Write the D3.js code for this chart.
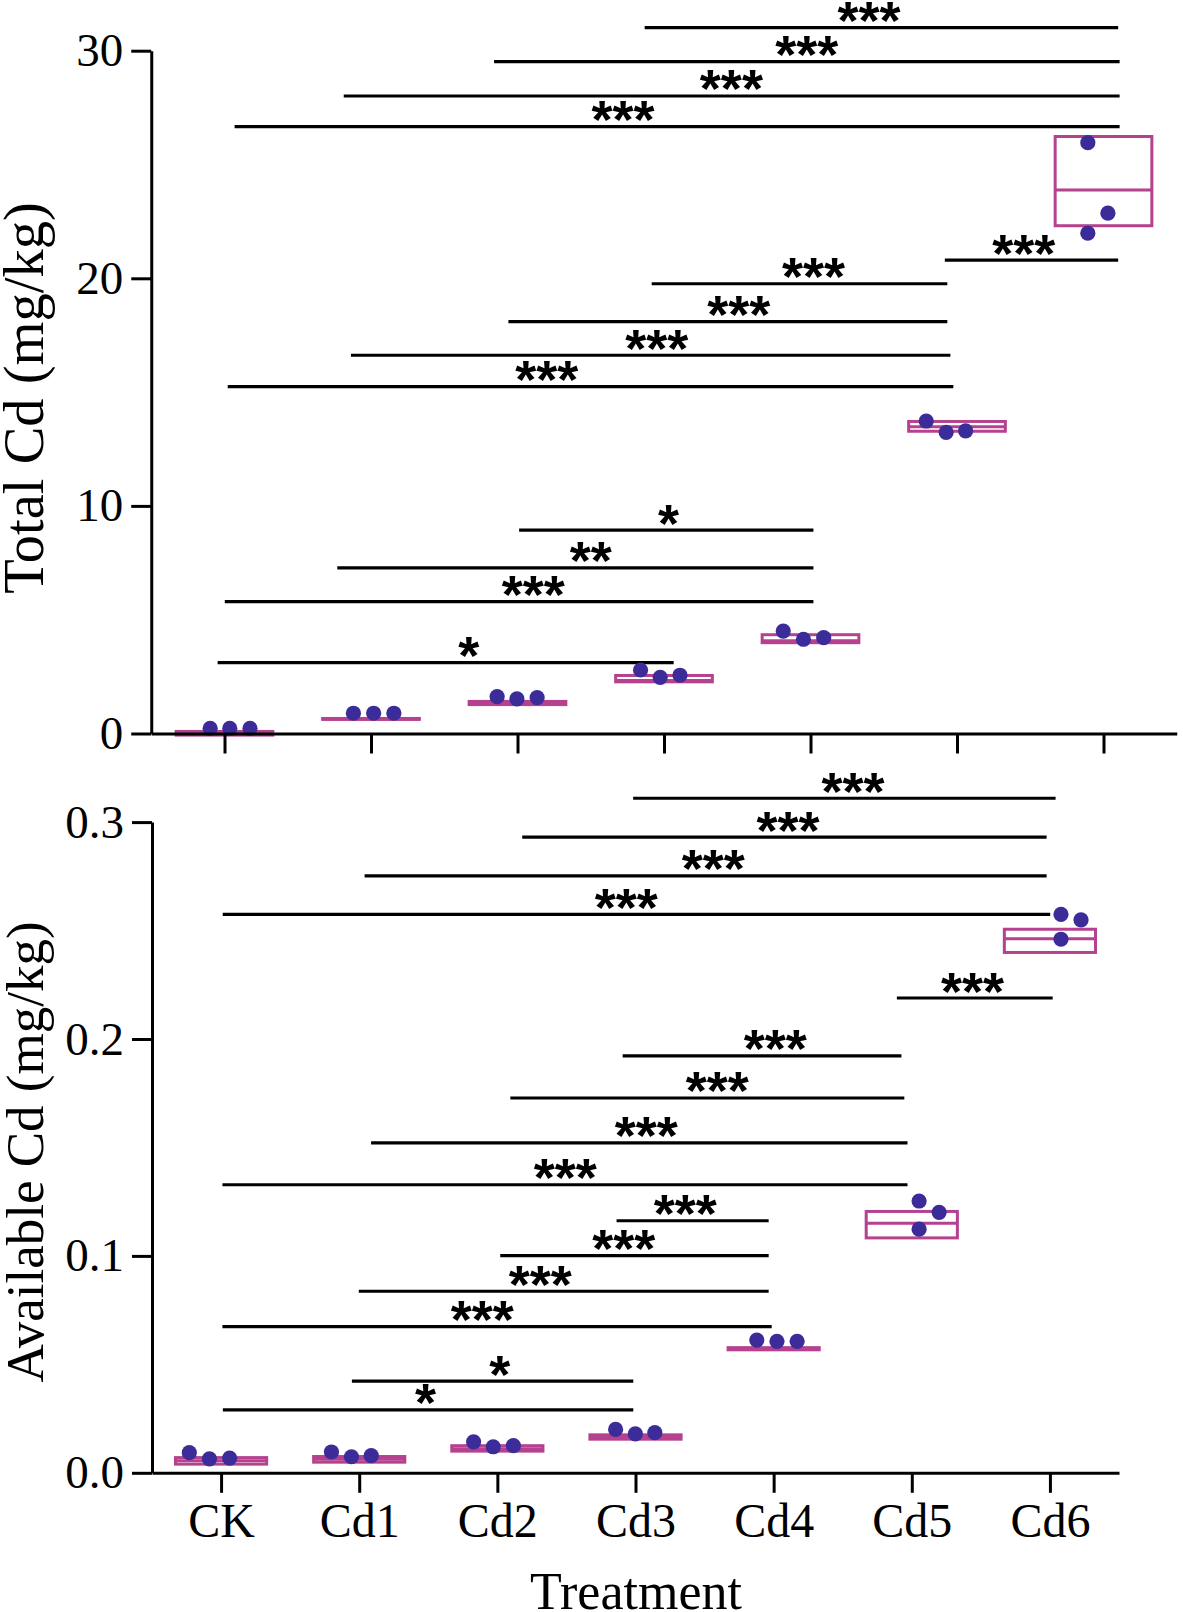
<!DOCTYPE html>
<html>
<head>
<meta charset="utf-8">
<script src="https://cdn.jsdelivr.net/npm/d3@7/dist/d3.min.js"></script>
<style>
  html, body { margin: 0; padding: 0; background: #fff; }
  svg { display: block; }
</style>
</head>
<body>
<svg id="chart" width="1183" height="1612"></svg>
<script>
// ---------------- DATA ----------------
const categories = ["CK", "Cd1", "Cd2", "Cd3", "Cd4", "Cd5", "Cd6"];

// Top panel: Total Cd (mg/kg)
const totalTicks = [0, 10, 20, 30];
const totalPoints = [
  [0.23, 0.23, 0.23],
  [0.89, 0.89, 0.89],
  [1.62, 1.52, 1.58],
  [2.79, 2.47, 2.56],
  [4.50, 4.14, 4.21],
  [13.73, 13.23, 13.30],
  [25.96, 22.86, 21.98]
];
// horizontal jitter of each point, in fractions of a category step
const totalJitter = [
  [-0.098, 0.036, 0.174],
  [-0.120, 0.018, 0.156],
  [-0.139, -0.004, 0.134],
  [-0.160, -0.026, 0.109],
  [-0.186, -0.048, 0.090],
  [-0.210, -0.074, 0.059],
  [-0.107, 0.030, -0.107]
];
const totalBoxLow  = [-0.07, 0.62, 1.27, 2.27, 3.99, 13.28, 22.31];
const totalBoxMid  = [0.01, 0.64, 1.34, 2.33, 4.08, 13.48, 23.88];
const totalBoxHigh = [0.09, 0.66, 1.41, 2.55, 4.34, 13.71, 26.23];
// significance bars: [from index, to index, y value, label, label position index]
const totalSig = [
  [2.868, 6.10, 31.01, "***", 4.40],
  [1.84, 6.11, 29.52, "***", 3.975],
  [0.814, 6.11, 28.01, "***", 3.46],
  [0.069, 6.11, 26.66, "***", 2.72],
  [4.917, 6.10, 20.80, "***", 5.456],
  [2.916, 4.934, 19.76, "***", 4.02],
  [1.938, 4.934, 18.10, "***", 3.51],
  [0.863, 4.955, 16.62, "***", 2.95],
  [0.022, 4.975, 15.24, "***", 2.20],
  [2.011, 4.02, 8.94, "*", 3.03],
  [0.77, 4.02, 7.28, "**", 2.50],
  [0.002, 4.02, 5.79, "***", 2.107],
  [-0.047, 3.066, 3.11, "*", 1.668]
];

// Bottom panel: Available Cd (mg/kg)
const availTicks = [0.0, 0.1, 0.2, 0.3];
const availPoints = [
  [0.0093, 0.0064, 0.0068],
  [0.0096, 0.0074, 0.0079],
  [0.0143, 0.0120, 0.0125],
  [0.0200, 0.0179, 0.0185],
  [0.0612, 0.0606, 0.0606],
  [0.1253, 0.1201, 0.1123],
  [0.2575, 0.2549, 0.2460]
];
const availJitter = [
  [-0.230, -0.084, 0.062],
  [-0.201, -0.056, 0.087],
  [-0.172, -0.030, 0.116],
  [-0.144, -0.001, 0.140],
  [-0.122, 0.024, 0.170],
  [0.053, 0.198, 0.053],
  [0.080, 0.225, 0.080]
];
const availBoxLow  = [0.0040, 0.0049, 0.0100, 0.0155, 0.0567, 0.1083, 0.2399];
const availBoxMid  = [0.0056, 0.0062, 0.0111, 0.0165, 0.0572, 0.1150, 0.2462];
const availBoxHigh = [0.0070, 0.0075, 0.0125, 0.0175, 0.0577, 0.1205, 0.2506];
const availSig = [
  [2.983, 6.041, 0.3110, "***", 4.574],
  [2.18, 5.976, 0.2931, "***", 4.104],
  [1.039, 5.976, 0.2752, "***", 3.563],
  [0.012, 6.002, 0.2575, "***", 2.933],
  [4.892, 6.02, 0.2189, "***", 5.439],
  [2.907, 4.925, 0.1922, "***", 4.012],
  [2.094, 4.946, 0.1728, "***", 3.592],
  [1.086, 4.969, 0.1521, "***", 3.078],
  [0.010, 4.969, 0.1328, "***", 2.491],
  [2.863, 3.964, 0.1162, "***", 3.36],
  [2.021, 3.964, 0.1001, "***", 2.915],
  [0.997, 3.964, 0.0837, "***", 2.31],
  [0.010, 3.986, 0.0674, "***", 1.89],
  [0.947, 2.984, 0.0423, "*", 2.017],
  [0.013, 2.984, 0.0290, "*", 1.48]
];

// ---------------- DRAWING ----------------
const svg = d3.select("#chart");
const BOX_COLOR = "#B5418F";
const DOT_COLOR = "#3B2C99";
const SERIF = "'Liberation Serif', 'Times New Roman', serif";
const SANS = "'Liberation Sans', Arial, sans-serif";

function drawPanel(cfg) {
  const g = svg.append("g");
  const x = d3.scalePoint().domain(categories).range(cfg.xRange).padding(0.5);
  const step = x.step();
  const xi = d3.scaleLinear().domain([0, categories.length - 1])
    .range([x(categories[0]), x(categories[categories.length - 1])]);
  const y = d3.scaleLinear().domain(cfg.yDomain).range(cfg.yRange);

  // significance bars
  const sig = g.append("g");
  cfg.sig.forEach(s => {
    sig.append("line")
      .attr("x1", xi(s[0])).attr("x2", xi(s[1]))
      .attr("y1", y(s[2])).attr("y2", y(s[2]))
      .attr("stroke", "#000").attr("stroke-width", 3.2);
    sig.append("text")
      .attr("x", xi(s[4])).attr("y", y(s[2]) + 11.5)
      .attr("text-anchor", "middle")
      .attr("font-family", SANS).attr("font-weight", "bold")
      .attr("font-size", 54)
      .text(s[3]);
  });

  // boxes
  const bw = step * 0.66;
  categories.forEach((c, i) => {
    g.append("rect")
      .attr("x", x(c) - bw / 2).attr("width", bw)
      .attr("y", y(cfg.high[i])).attr("height", y(cfg.low[i]) - y(cfg.high[i]))
      .attr("fill", "#fff").attr("stroke", BOX_COLOR).attr("stroke-width", 3);
    g.append("line")
      .attr("x1", x(c) - bw / 2).attr("x2", x(c) + bw / 2)
      .attr("y1", y(cfg.mid[i])).attr("y2", y(cfg.mid[i]))
      .attr("stroke", BOX_COLOR).attr("stroke-width", 3);
  });

  // points
  categories.forEach((c, i) => {
    cfg.points[i].forEach((v, j) => {
      g.append("circle")
        .attr("cx", x(c) + cfg.jitter[i][j] * step)
        .attr("cy", y(v)).attr("r", 7.6)
        .attr("fill", DOT_COLOR);
    });
  });

  // axes
  const yAxis = d3.axisLeft(y).tickValues(cfg.ticks).tickSize(20).tickSizeOuter(0)
    .tickPadding(8).tickFormat(cfg.fmt);
  const ya = g.append("g").attr("transform", `translate(${cfg.xRange[0]},0)`).call(yAxis);
  const xAxis = d3.axisBottom(x).tickSize(20).tickSizeOuter(0).tickPadding(10)
    .tickFormat(cfg.showX ? (d => d) : (() => ""));
  const xa = g.append("g").attr("transform", `translate(0,${cfg.yRange[0]})`).call(xAxis);
  [ya, xa].forEach(a => {
    a.selectAll("path, line").attr("stroke", "#000").attr("stroke-width", 3);
    a.selectAll("text").attr("font-family", SERIF).attr("fill", "#000");
  });
  ya.selectAll("text").attr("font-size", 47);
  xa.selectAll("text").attr("font-size", 48);

  // y title
  g.append("text")
    .attr("transform", `translate(${cfg.titleX},${cfg.titleY}) rotate(-90)`)
    .attr("text-anchor", "middle")
    .attr("font-family", SERIF).attr("font-size", cfg.titleSize)
    .text(cfg.title);
  return { x, y };
}

drawPanel({
  xRange: [151.25, 1176.75], yDomain: [0, 30], yRange: [733.5, 50.7],
  ticks: totalTicks, fmt: d3.format("d"), showX: false,
  points: totalPoints, jitter: totalJitter,
  low: totalBoxLow, mid: totalBoxMid, high: totalBoxHigh,
  sig: totalSig, title: "Total Cd (mg/kg)", titleX: 43, titleY: 398, titleSize: 56.5
});

drawPanel({
  xRange: [152, 1119], yDomain: [0, 0.3], yRange: [1472.8, 822.1],
  ticks: availTicks, fmt: d3.format(".1f"), showX: true,
  points: availPoints, jitter: availJitter,
  low: availBoxLow, mid: availBoxMid, high: availBoxHigh,
  sig: availSig, title: "Available Cd (mg/kg)", titleX: 43, titleY: 1152, titleSize: 53
});

svg.append("text")
  .attr("x", 636).attr("y", 1609)
  .attr("text-anchor", "middle")
  .attr("font-family", SERIF).attr("font-size", 52)
  .text("Treatment");
</script>
</body>
</html>
